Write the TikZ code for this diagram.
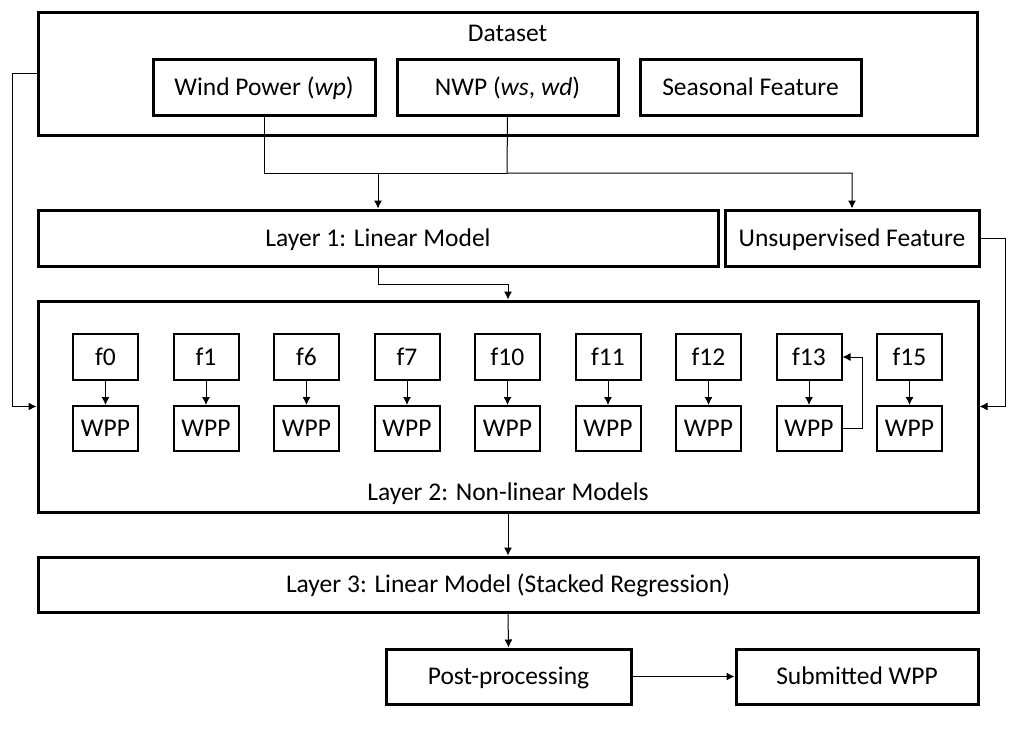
\documentclass[tikz,border=0pt]{standalone}
\usepackage{fontspec}
\setmainfont{Carlito}
\usetikzlibrary{arrows.meta}

\begin{document}
\begin{tikzpicture}[x=1pt,y=-1pt,
  font=\fontsize{25.5}{30}\selectfont,
  txt/.style={text height=21pt,text depth=4.6pt},
  box/.style={draw,line width=3pt,inner sep=0pt,txt},
  smallbox/.style={draw,line width=2pt,inner sep=0pt,minimum width=65pt,txt},
  arr/.style={-{Latex[length=8pt,width=8pt]},line width=1pt},
  link/.style={line width=1pt}]
\useasboundingbox (0,0) rectangle (1014,740);

\node[box,minimum width=939pt,minimum height=123pt] (dataset) at (507.5,73.5) {};
\node[txt] (datalabel) at (507.5,33) {Dataset};
\node[box,minimum width=222pt,minimum height=56pt] (wp) at (264,87) {Wind Power (\textit{wp})};
\node[box,minimum width=221pt,minimum height=56pt] (nwp) at (507.5,87) {NWP (\textit{ws}, \textit{wd})};
\node[box,minimum width=221pt,minimum height=56pt] (seasonal) at (750.5,87) {Seasonal Feature};

\node[box,minimum width=680pt,minimum height=56pt] (layer1) at (378,238) {Layer 1: Linear Model};
\node[box,minimum width=254pt,minimum height=56pt] (unsup) at (852,238) {Unsupervised Feature};

\node[box,minimum width=940pt,minimum height=211pt] (layer2) at (508,406.5) {};
\node[txt] (layer2label) at (508,492) {Layer 2: Non-linear Models};

\foreach \lab [count=\i from 0] in {0,1,6,7,10,11,12,13,15} {
  \node[smallbox,minimum height=46pt] (f\i) at (105.5+100.5*\i,357) {f\lab};
  \node[smallbox,minimum height=45pt] (w\i) at (105.5+100.5*\i,428.5) {WPP};
  \draw[arr] (f\i) -- (w\i);
}

\node[box,minimum width=940pt,minimum height=55pt] (layer3) at (508,584.5) {Layer 3: Linear Model (Stacked Regression)};
\node[box,minimum width=245pt,minimum height=55pt] (post) at (508.5,676.5) {Post-processing};
\node[box,minimum width=242pt,minimum height=55pt] (submitted) at (857,676.5) {Submitted WPP};

\coordinate (split) at (507,173);
\draw[link] (wp.south) |- (split);
\draw[arr] (nwp.south) -- (split) -| (unsup.north);
\draw[arr] (layer1.north |- split) -- (layer1.north);

\draw[arr] (dataset.west) -- ++(-24,0) |- (layer2.west);
\draw[arr] (unsup.east) -- ++(25,0) |- (layer2.east);
\draw[arr] (layer1.south) -- ++(0,17) -| (layer2.north);
\draw[arr] (w7.east) -- ++(20,0) |- (f7.east);

\draw[arr] (layer2.south) -- (layer3.north);
\draw[arr] (layer3.south) -- (post.north);
\draw[arr] (post.east) -- (submitted.west);
\end{tikzpicture}
\end{document}
